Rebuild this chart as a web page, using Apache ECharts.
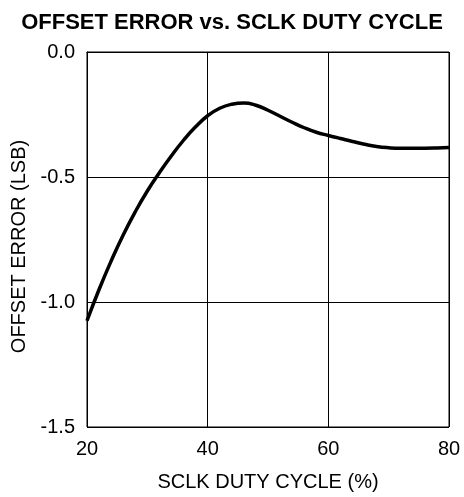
<html>
<head>
    <meta charset="UTF-8">
    <title>OFFSET ERROR vs. SCLK DUTY CYCLE</title>
    <script src="https://cdn.jsdelivr.net/npm/echarts@6/dist/echarts.min.js"></script>
    <style>
        body { margin: 0; background: #fff; }
    </style>
</head>

<body>
    <div id="container" style="width: 464px;height:497px;"></div>
</body>

<script>
    // duty cycle (%) and offset error (LSB)
    var dutyCycle = [20, 22, 24, 26, 28, 30, 32, 34, 36, 38, 40, 42, 44, 46, 48, 50,
        52, 54, 56, 58, 60, 62, 64, 66, 68, 70, 72, 74, 76, 78, 80];
    var offsetError = [-1.075, -0.950, -0.836, -0.732, -0.639, -0.556, -0.483, -0.415, -0.353, -0.299, -0.255,
        -0.225, -0.209, -0.204, -0.213, -0.233, -0.257, -0.281, -0.303, -0.321, -0.334,
        -0.346, -0.358, -0.369, -0.378, -0.383, -0.385, -0.385, -0.385, -0.384, -0.382];
    var xTicks = [20, 40, 60, 80];
    var yTicks = [-1.5, -1.0, -0.5, 0.0];

    var font = 'Liberation Sans, Arial, sans-serif';
    var points = [];
    for (var i = 0; i < dutyCycle.length; i++) {
        points.push([dutyCycle[i], offsetError[i]]);
    }

    var mycharts = echarts.init(document.getElementById('container'));
    var option = {
        animation: false,
        title: {
            text: 'OFFSET ERROR vs. SCLK DUTY CYCLE',
            left: 'center',
            top: 7,
            textStyle: { fontFamily: font, fontSize: 22, fontWeight: 'bold', color: '#000' }
        },
        grid: {
            left: 87, right: 15, top: 52, bottom: 67,
            show: true, borderColor: '#000', borderWidth: 1
        },
        xAxis: {
            type: 'value',
            min: xTicks[0], max: xTicks[xTicks.length - 1], interval: 20,
            name: 'SCLK DUTY CYCLE (%)',
            nameLocation: 'middle',
            nameGap: 45,
            nameTextStyle: { fontFamily: font, fontSize: 20, color: '#000' },
            axisLine: { lineStyle: { color: '#000', width: 1 } },
            axisTick: { show: false },
            axisLabel: { fontFamily: font, fontSize: 20, color: '#000', margin: 12 },
            splitLine: { lineStyle: { color: '#000', width: 1 } }
        },
        yAxis: {
            type: 'value',
            min: yTicks[0], max: yTicks[yTicks.length - 1], interval: 0.5,
            name: 'OFFSET ERROR (LSB)',
            nameLocation: 'middle',
            nameGap: 57,
            nameTextStyle: { fontFamily: font, fontSize: 20, color: '#000', padding: [0, 14, 0, 0] },
            axisLine: { show: true, lineStyle: { color: '#000', width: 1 } },
            axisTick: { show: false },
            axisLabel: {
                fontFamily: font, fontSize: 20, color: '#000', margin: 12,
                formatter: function (v) { return v.toFixed(1); }
            },
            splitLine: { lineStyle: { color: '#000', width: 1 } }
        },
        series: [{
            type: 'line',
            data: points,
            smooth: true,
            showSymbol: false,
            lineStyle: { color: '#000', width: 3.5 }
        }]
    };
    mycharts.setOption(option);
</script>
</html>
